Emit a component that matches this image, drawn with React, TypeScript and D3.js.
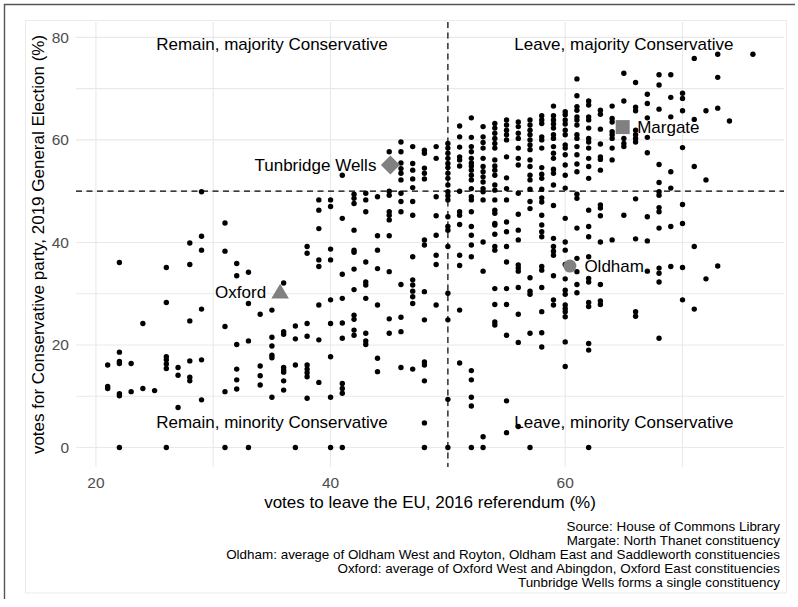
import React from 'react';
import * as d3 from 'd3';

// integer "leave" percentages (columns) and Conservative vote shares in each column
const leaveColumns = [21, 22, 23, 24, 25, 26, 27, 28, 29, 31, 32, 33, 34, 35, 36, 37, 38, 39, 40, 41, 42, 43, 44, 45, 46, 47, 48, 49, 50, 51, 52, 53, 54, 55, 56, 57, 58, 59, 60, 61, 62, 63, 64, 65, 66, 67, 68, 69, 70, 71, 72, 73, 74, 76];
const conservativeByColumn = [
  [16.1, 11.9, 11.5],
  [36.1, 18.6, 16.8, 16.4, 10.5, 10.1, 0],
  [16.4, 10.9],
  [24.2, 11.5],
  [11.1],
  [35.1, 28.3, 17.7, 17.1, 16.3, 15.4, 0],
  [15.6, 14.1, 7.8],
  [39.9, 35.7, 24.7, 16.9, 13.7, 13.0],
  [49.9, 41.2, 38.5, 27.0, 17.1, 9.3],
  [43.8, 38.3, 23.6, 10.9, 0],
  [35.9, 33.5, 20.1, 15.3, 13.2, 11.4],
  [34.2, 28.1, 20.8, 0],
  [26.0, 15.9, 14.0, 12.2],
  [26.8, 21.5, 19.8, 18.0, 17.5, 9.8],
  [32.1, 22.6, 22.1, 15.6, 15.1, 14.7, 13.0, 11.2],
  [23.7, 21.2, 16.1, 0],
  [39.2, 37.9, 24.2, 21.7, 16.1, 15.3, 14.6, 13.8, 9.6],
  [48.3, 46.3, 42.7, 36.6, 35.3, 27.8, 21.0, 12.7],
  [48.3, 47.0, 38.7, 36.6, 28.8, 24.2, 17.7, 9.8, 0],
  [53.1, 44.7, 33.8, 29.1, 24.3, 21.3, 12.5, 11.5, 10.6, 0],
  [49.4, 48.6, 47.6, 42.4, 38.5, 38.1, 34.8, 30.8, 25.8, 25.0, 22.9, 21.9],
  [49.6, 48.3, 46.0, 36.2, 32.3, 31.7, 29.1, 22.3, 20.8, 20.1],
  [48.9, 41.3, 38.5, 34.9, 27.8, 17.4, 14.8],
  [57.7, 50.0, 49.2, 46.0, 45.3, 44.4, 41.3, 34.3, 25.1, 22.3],
  [59.6, 57.7, 55.5, 54.4, 53.5, 52.2, 49.6, 48.0, 46.0, 31.8, 25.4, 22.6, 15.6],
  [58.7, 55.4, 54.1, 52.4, 50.7, 48.0, 45.3, 37.2, 32.7, 31.7, 30.5, 29.4, 28.1, 15.3],
  [58.0, 57.4, 54.5, 53.5, 52.4, 40.5, 39.5, 30.4, 24.9, 16.7, 16.1, 13.0, 4.8, 0],
  [58.7, 56.4, 48.9, 45.2, 41.4, 37.5, 35.7, 27.8],
  [59.3, 58.4, 57.4, 56.4, 55.4, 54.6, 53.5, 52.5, 51.2, 49.9, 49.1, 48.3, 45.0, 43.1, 42.4, 39.2, 30.1, 24.9, 9.4, 0],
  [62.7, 60.6, 58.6, 56.7, 56.1, 54.9, 50.0, 46.0, 45.3, 43.5, 37.5, 35.5, 26.8, 16.5],
  [64.3, 60.5, 58.7, 57.7, 56.4, 55.5, 54.9, 54.1, 53.1, 52.2, 50.5, 48.9, 48.3, 46.0, 43.1, 41.4, 39.5, 37.2, 15.0, 13.2, 9.8, 8.1, 0],
  [62.6, 60.6, 59.5, 58.4, 56.4, 54.8, 53.8, 52.8, 51.8, 50.5, 49.9, 48.3, 40.1, 34.4, 2.1, 0],
  [63.2, 62.3, 61.3, 60.3, 59.3, 58.4, 56.1, 54.9, 54.1, 53.1, 51.2, 50.2, 48.3, 46.3, 45.7, 43.7, 43.4, 41.6, 39.2, 38.5, 31.0, 27.9, 24.5, 23.9],
  [63.9, 62.9, 61.9, 61.0, 60.0, 56.7, 52.6, 50.5, 48.3, 44.0, 42.1, 39.2, 36.2, 31.0, 27.9, 21.9, 9.1, 2.9],
  [63.5, 62.6, 61.3, 60.3, 58.4, 56.4, 55.1, 49.6, 45.5, 42.4, 40.5, 35.6, 35.0, 34.4, 31.2, 26.0, 20.5, 4.1],
  [63.9, 62.9, 61.9, 61.0, 60.0, 59.0, 58.1, 56.1, 54.8, 53.1, 52.2, 50.4, 48.0, 46.6, 33.1, 30.5, 29.9, 22.3, 0],
  [64.7, 63.9, 63.2, 60.6, 60.0, 58.4, 54.6, 53.3, 52.5, 50.4, 48.7, 47.9, 45.3, 43.4, 42.1, 41.1, 35.3, 34.6, 31.2, 26.5, 22.4, 19.6],
  [66.6, 64.7, 63.9, 63.1, 62.3, 61.0, 60.3, 58.7, 57.4, 56.4, 54.3, 53.5, 51.2, 47.2, 40.8, 39.2, 38.3, 37.5, 33.5, 28.8, 27.8],
  [65.5, 64.9, 63.9, 63.1, 61.9, 61.0, 59.0, 58.4, 57.1, 55.1, 53.1, 50.6, 44.7, 40.1, 38.5, 35.7, 32.9, 30.7, 29.9, 27.8, 27.1, 26.5, 25.5, 20.6, 15.8],
  [71.9, 68.6, 66.5, 65.8, 64.5, 63.9, 62.9, 61.0, 60.3, 58.7, 57.1, 55.3, 53.8, 49.4, 48.6, 42.8, 36.9, 34.3, 31.8, 30.2],
  [67.6, 66.8, 64.5, 63.9, 62.3, 60.3, 59.6, 58.4, 56.4, 54.8, 52.5, 46.3, 43.1, 41.1, 37.2, 33.0, 32.3, 28.3, 27.5, 20.3, 19.0, 0],
  [65.8, 65.0, 62.1, 59.2, 56.7, 56.2, 54.1, 47.3, 46.7, 45.2, 40.1, 31.8, 28.6, 27.9],
  [66.6, 64.2, 63.5, 61.6, 61.0, 60.3, 58.4, 56.1, 40.5],
  [73.0, 67.6, 60.3, 59.3, 58.7, 45.3],
  [71.2, 66.4, 65.7, 61.9, 61.0, 60.3, 59.6, 48.5, 40.7, 26.5, 25.6],
  [68.9, 67.1, 64.3, 60.5, 57.5, 45.0, 40.3, 34.4],
  [72.7, 70.7, 66.0, 55.2, 51.7, 49.9, 49.2, 46.8, 46.0, 42.8, 35.0, 34.0, 32.3, 21.3],
  [72.7, 68.3, 64.5, 53.8, 50.6, 43.1, 35.3],
  [69.1, 68.1, 65.7, 58.5, 47.4, 43.7, 35.1, 28.8],
  [75.9, 64.0, 54.8, 39.2, 27.0],
  [65.7, 52.2, 32.9],
  [76.7, 72.2, 66.2, 35.4],
  [63.7],
  [76.7],
];

const quadrantLabels = ['Remain, majority Conservative', 'Leave, majority Conservative', 'Remain, minority Conservative', 'Leave, minority Conservative'];
const quadrantLeave = [35, 65, 35, 65];
const quadrantCon = [78.7, 78.7, 5, 5];

const highlightNames = ['Tunbridge Wells', 'Margate', 'Oldham', 'Oxford'];
const highlightLeave = [45.1, 64.9, 60.4, 35.7];
const highlightCon = [55.1, 62.5, 35.4, 30.4];
const highlightShapes = ['diamond', 'square', 'circle', 'triangle'];
const highlightSide = ['left', 'right', 'right', 'left'];

const xMajor = [20, 40, 60];
const xMinor = [30, 50, 70];
const yMajor = [0, 20, 40, 60, 80];
const yMinor = [10, 30, 50, 70];
const thresholdLeave = 50;
const thresholdCon = 50;

const captionLines = [
  'Source: House of Commons Library',
  'Margate: North Thanet constituency',
  'Oldham: average of Oldham West and Royton, Oldham East and Saddleworth constituencies',
  'Oxford: average of Oxford West and Abingdon, Oxford East constituencies',
  'Tunbridge Wells forms a single constituency',
];

const FONT = "'Liberation Sans', Arial, Helvetica, sans-serif";

export default function App() {
  const W = 798;
  const H = 607;
  const left = 76, right = 784, top = 22, bottom = 467;
  const x = d3.scaleLinear().domain([18.3, 78.65]).range([left, right]);
  const y = d3.scaleLinear().domain([-3.8, 83]).range([bottom, top]);

  const points = leaveColumns.flatMap((l, i) => conservativeByColumn[i].map((c) => ({ l, c })));
  const gridColor = '#e9e9e9';
  const grey = '#808080';

  const marker = (shape: string, cx: number, cy: number, key: number) => {
    if (shape === 'circle') return <circle key={key} cx={cx} cy={cy} r={6.5} fill={grey} />;
    if (shape === 'square') return <rect key={key} x={cx - 7} y={cy - 7} width={14} height={14} fill={grey} />;
    if (shape === 'diamond') {
      const r = 9.5;
      return <path key={key} d={`M${cx},${cy - r}L${cx + r},${cy}L${cx},${cy + r}L${cx - r},${cy}Z`} fill={grey} />;
    }
    return <path key={key} d={`M${cx},${cy - 8}L${cx + 8.8},${cy + 6.8}L${cx - 8.8},${cy + 6.8}Z`} fill={grey} />;
  };

  return (
    <svg width={W} height={H} style={{ position: 'absolute', left: 0, top: 0, background: '#fff' }} fontFamily={FONT}>
      <rect x={0} y={0} width={W} height={H} fill="#fff" />
      {/* frames */}
      <line x1={4.5} x2={4.5} y1={4} y2={599} stroke="#555" strokeWidth={1.4} />
      <line x1={4} x2={795} y1={4.5} y2={4.5} stroke="#555" strokeWidth={1.4} />
      <rect x={25.5} y={20.5} width={761} height={572.5} fill="none" stroke="#ebebeb" strokeWidth={1} />

      {/* grid */}
      {[...xMinor, ...xMajor].map((v) => (
        <line key={'gx' + v} x1={x(v)} x2={x(v)} y1={top} y2={bottom} stroke={gridColor} strokeWidth={1.1} />
      ))}
      {[...yMinor, ...yMajor].map((v) => (
        <line key={'gy' + v} x1={left} x2={right} y1={y(v)} y2={y(v)} stroke={gridColor} strokeWidth={1.1} />
      ))}

      {/* threshold lines */}
      <line x1={x(thresholdLeave)} x2={x(thresholdLeave)} y1={top} y2={bottom} stroke="#000" strokeWidth={1.2} strokeDasharray="6,4.5" />
      <line x1={left} x2={right} y1={y(thresholdCon)} y2={y(thresholdCon)} stroke="#000" strokeWidth={1.2} strokeDasharray="6,4.5" />

      {/* quadrant labels */}
      {quadrantLabels.map((t, i) => (
        <text key={'q' + i} x={x(quadrantLeave[i])} y={y(quadrantCon[i])} dy="0.35em" textAnchor="middle" fontSize={17} fill="#000">
          {t}
        </text>
      ))}

      {/* points */}
      {points.map((p, i) => (
        <circle key={'p' + i} cx={x(p.l)} cy={y(p.c)} r={2.7} fill="#000" />
      ))}

      {/* highlighted places */}
      {highlightNames.map((n, i) => {
        const cx = x(highlightLeave[i]);
        const cy = y(highlightCon[i]);
        const isLeft = highlightSide[i] === 'left';
        return (
          <g key={'h' + i}>
            {marker(highlightShapes[i], cx, cy, i)}
            <text x={isLeft ? cx - 14 : cx + 14.5} y={cy} dy="0.35em" textAnchor={isLeft ? 'end' : 'start'} fontSize={17} fill="#000">
              {n}
            </text>
          </g>
        );
      })}

      {/* axes */}
      {xMajor.map((v) => (
        <text key={'xt' + v} x={x(v)} y={488} textAnchor="middle" fontSize={15.5} fill="#4d4d4d">
          {v}
        </text>
      ))}
      {yMajor.map((v) => (
        <text key={'yt' + v} x={69} y={y(v)} dy="0.35em" textAnchor="end" fontSize={15.5} fill="#4d4d4d">
          {v}
        </text>
      ))}
      <text x={(left + right) / 2} y={508} textAnchor="middle" fontSize={17} fill="#000">
        votes to leave the EU, 2016 referendum (%)
      </text>
      <text transform={`translate(44,${(top + bottom) / 2}) rotate(-90)`} textAnchor="middle" fontSize={17} fill="#000">
        votes for Conservative party, 2019 General Election (%)
      </text>

      {/* caption */}
      {captionLines.map((t, i) => (
        <text
          key={'c' + i}
          transform={`translate(780,${531 + i * 13.9}) scale(1.12,1)`}
          x={0}
          y={0}
          textAnchor="end"
          fontSize={12}
          fill="#000"
        >
          {t}
        </text>
      ))}
    </svg>
  );
}
